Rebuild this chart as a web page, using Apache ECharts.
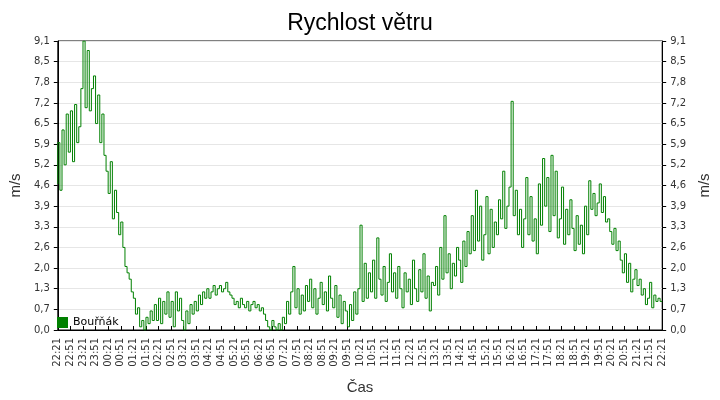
<!DOCTYPE html>
<html><head><meta charset="utf-8">
<script src="https://cdn.jsdelivr.net/npm/echarts@6/dist/echarts.min.js"></script>
<style>html,body{margin:0;padding:0;background:#fff}#c{width:720px;height:400px}</style>
</head><body><div id="c"></div>
<script>
const seriesName = 'Bouřňák';
const yTickLabels = ['0,0','0,7','1,3','2,0','2,6','3,3','3,9','4,6','5,2','5,9','6,5','7,2','7,8','8,5','9,1'];
const windValues = [
4.6,5.9,4.4,6.3,5.2,6.8, 5.6,6.9,5.3,7.1,5.9,6.4, 7.6,9.1,7.0,8.8,6.9,7.6, 8.0,6.5,7.4,5.9,6.8,5.5,
5.0,4.3,5.3,3.5,4.4,3.7, 3.0,3.4,2.6,2.0,1.8,1.6, 1.2,1.0,0.5,0.7,0.1,0.3, 0.0,0.4,0.2,0.6,0.3,0.8,
0.3,1.0,0.2,0.9,0.5,1.2, 0.4,0.9,0.1,1.2,0.6,1.0, 0.3,0.0,0.6,0.2,0.8,0.5, 0.9,0.6,1.1,0.8,1.2,1.0,
1.3,1.0,1.2,1.4,1.1,1.3, 1.4,1.2,1.3,1.5,1.2,1.1, 1.0,0.8,0.9,0.7,1.0,0.8, 0.7,0.9,0.6,0.8,0.9,0.7,
0.8,0.6,0.7,0.5,0.3,0.1, 0.0,0.3,0.1,0.0,0.2,0.0, 0.4,0.2,0.9,0.5,1.2,2.0, 0.7,1.3,0.5,1.1,0.6,1.4,
0.9,1.6,0.7,1.3,0.5,1.0, 1.5,0.8,1.2,0.6,1.7,1.0, 0.7,1.4,0.4,1.1,0.2,0.9, 0.6,0.1,0.8,0.3,1.2,0.5,
1.3,3.3,0.9,2.1,1.0,1.8, 1.2,2.2,1.0,2.9,1.6,1.1, 2.0,0.9,1.5,2.4,1.2,1.8, 1.0,2.0,1.3,0.7,1.8,1.2,
1.6,0.8,2.2,1.3,0.9,1.9, 1.2,2.4,1.0,1.7,0.6,1.5, 1.4,2.0,1.1,2.6,1.6,3.6, 1.8,2.4,1.3,2.1,1.7,2.6,
2.2,1.5,2.8,2.0,3.1,2.4, 3.6,2.5,4.4,2.8,3.9,2.2, 3.0,4.2,2.4,3.8,2.6,3.4, 3.0,4.1,3.5,5.0,3.2,3.9,
4.5,7.2,3.6,4.4,3.0,3.8, 2.6,3.5,4.8,3.0,4.2,2.8, 3.5,2.4,4.6,3.3,5.4,3.9, 4.8,3.1,5.5,3.6,5.0,2.9,
3.5,4.5,2.7,3.8,3.0,4.1, 3.2,2.5,3.6,2.7,3.3,2.4, 3.9,3.0,4.7,3.8,4.3,3.6, 4.0,4.6,3.7,4.2,3.4,3.5,
3.1,2.7,3.2,2.5,2.8,2.2, 1.8,2.4,1.5,2.1,1.2,1.6, 1.9,1.4,1.6,1.1,1.3,0.8, 1.0,1.5,0.7,1.1,0.9,1.0,
0.9];
// time categories every 5 minutes from 22:21
const times = [];
for (let i = 0; i < windValues.length; i++) {
  const m = (22*60 + 21 + i*5) % 1440;
  times.push(String(Math.floor(m/60)).padStart(2,'0') + ':' + String(m%60).padStart(2,'0'));
}
const yAxisBase = (pos) => ({
  type:'value', position:pos, min:0, max:9.1, interval:0.65,
  name:'m/s', nameLocation:'middle', nameGap: 34, nameRotate:90,
  nameTextStyle:{fontSize:15,color:'#333',fontFamily:'Liberation Sans'},
  axisLine:{show:true,lineStyle:{color:'#000'}},
  axisTick:{show:true,length:4,lineStyle:{color:'#000'}},
  axisLabel:{fontSize:10,color:'#333',fontFamily:'DejaVu Sans',
    formatter:(v)=>yTickLabels[Math.round(v/0.65)]},
  splitLine:{show:pos==='left',lineStyle:{color:'#e6e6e6'}}
});
const chart = echarts.init(document.getElementById('c'));
chart.setOption({
  animation:false,
  backgroundColor:'#fff',
  title:{text:'Rychlost větru',left:'center',top:7,textStyle:{fontSize:23,fontWeight:'normal',color:'#000',fontFamily:'Liberation Sans'}},
  grid:{left:48,right:52,top:41,bottom:69,show:true,borderColor:'#000',borderWidth:1},
  legend:{left:52,top:312,itemWidth:11,itemHeight:11,icon:'rect',
    textStyle:{fontSize:11,color:'#000',fontFamily:'DejaVu Sans'},data:[{name:seriesName,itemStyle:{color:'#008000'}}]},
  xAxis:{type:'category',data:times,boundaryGap:false,
    name:'Čas',nameLocation:'middle',nameGap:50,nameTextStyle:{fontSize:15,color:'#333',fontFamily:'Liberation Sans'},
    axisLine:{lineStyle:{color:'#000'}},
    axisTick:{inside:true,interval:5,length:4,lineStyle:{color:'#000'}},
    axisLabel:{interval:5,rotate:90,fontSize:10,color:'#333',fontFamily:'DejaVu Sans'},
    splitLine:{show:false}},
  yAxis:[yAxisBase('left'), yAxisBase('right')],
  series:[{name:seriesName,type:'line',data:windValues,step:'start',showSymbol:false,
    lineStyle:{color:'#008000',width:1},itemStyle:{color:'#008000'}}]
});
</script></body></html>
